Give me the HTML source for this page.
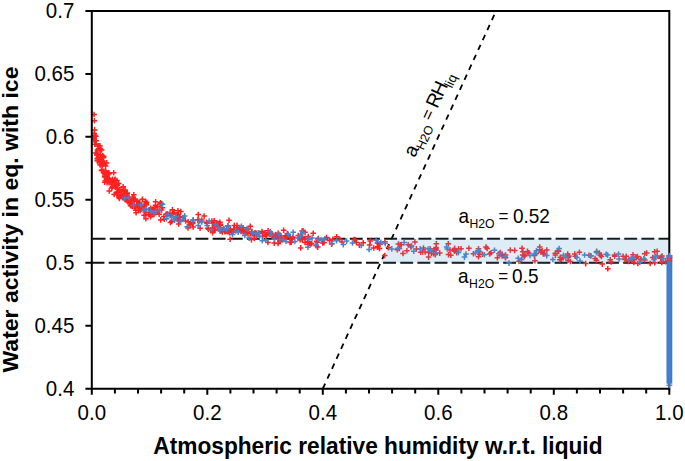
<!DOCTYPE html>
<html><head><meta charset="utf-8"><style>
html,body{margin:0;padding:0;background:#fff;}
svg{display:block;}
text{font-family:"Liberation Sans",sans-serif;fill:#000;}
</style></head><body>
<svg width="685" height="461" viewBox="0 0 685 461">
<rect width="685" height="461" fill="#fff"/>
<path d="M322.8 388.7L496.1 10.9" stroke="#000" stroke-width="1.8" stroke-dasharray="5.7 5.26" fill="none"/>
<path d="M91.8 238.8H669.3" stroke="#111" stroke-width="2" stroke-dasharray="12.9 4.25" stroke-dashoffset="-0.8" fill="none"/>
<path d="M91.8 262.8H669.3" stroke="#111" stroke-width="2" stroke-dasharray="12.9 4.25" stroke-dashoffset="0.25" fill="none"/>
<path d="M95.0 146.1h5.6M97.8 143.3v5.6M98.8 150.0h5.6M101.6 147.2v5.6M94.3 154.2h5.6M97.1 151.4v5.6M92.0 135.5h5.6M94.8 132.7v5.6M96.2 145.7h5.6M99.0 142.9v5.6M99.9 164.5h5.6M102.7 161.7v5.6M91.4 133.4h5.6M94.2 130.6v5.6M92.0 144.2h5.6M94.8 141.4v5.6M100.8 163.7h5.6M103.6 160.9v5.6M99.8 155.7h5.6M102.6 152.9v5.6M94.5 158.4h5.6M97.3 155.6v5.6M94.0 155.1h5.6M96.8 152.3v5.6M100.0 161.4h5.6M102.8 158.6v5.6M97.1 145.9h5.6M99.9 143.1v5.6M93.4 140.7h5.6M96.2 137.9v5.6M98.1 157.4h5.6M100.9 154.6v5.6M100.7 157.8h5.6M103.5 155.0v5.6M95.5 157.4h5.6M98.3 154.6v5.6M100.3 162.7h5.6M103.1 159.9v5.6M97.3 154.5h5.6M100.1 151.7v5.6M97.2 164.2h5.6M100.0 161.4v5.6M94.7 149.9h5.6M97.5 147.1v5.6M94.4 160.7h5.6M97.2 157.9v5.6M94.7 160.3h5.6M97.5 157.5v5.6M93.4 153.1h5.6M96.2 150.3v5.6M100.8 156.5h5.6M103.6 153.7v5.6M97.2 149.4h5.6M100.0 146.6v5.6M96.7 161.1h5.6M99.5 158.3v5.6M97.5 165.0h5.6M100.3 162.2v5.6M91.4 136.9h5.6M94.2 134.1v5.6M97.6 149.1h5.6M100.4 146.3v5.6M96.5 159.3h5.6M99.3 156.5v5.6M91.8 129.9h5.6M94.6 127.1v5.6M96.1 160.3h5.6M98.9 157.5v5.6M92.7 152.9h5.6M95.5 150.1v5.6M91.0 139.6h5.6M93.8 136.8v5.6M98.8 170.6h5.6M101.6 167.8v5.6M93.1 136.3h5.6M95.9 133.5v5.6M100.0 161.1h5.6M102.8 158.3v5.6M95.7 148.7h5.6M98.5 145.9v5.6M99.6 164.6h5.6M102.4 161.8v5.6M110.5 182.3h5.6M113.3 179.5v5.6M119.8 197.7h5.6M122.6 194.9v5.6M120.3 187.4h5.6M123.1 184.6v5.6M142.5 201.4h5.6M145.3 198.6v5.6M134.5 204.4h5.6M137.3 201.6v5.6M116.9 190.3h5.6M119.7 187.5v5.6M103.9 162.9h5.6M106.7 160.1v5.6M105.1 179.0h5.6M107.9 176.2v5.6M147.9 216.8h5.6M150.7 214.0v5.6M122.1 199.4h5.6M124.9 196.6v5.6M132.3 208.1h5.6M135.1 205.3v5.6M106.4 179.3h5.6M109.2 176.5v5.6M101.9 176.1h5.6M104.7 173.3v5.6M141.0 208.9h5.6M143.8 206.1v5.6M127.7 205.7h5.6M130.5 202.9v5.6M115.9 190.7h5.6M118.7 187.9v5.6M114.3 188.2h5.6M117.1 185.4v5.6M103.9 176.0h5.6M106.7 173.2v5.6M108.3 181.4h5.6M111.1 178.6v5.6M101.6 173.3h5.6M104.4 170.5v5.6M141.9 206.4h5.6M144.7 203.6v5.6M122.7 197.8h5.6M125.5 195.0v5.6M102.2 174.2h5.6M105.0 171.4v5.6M133.3 212.8h5.6M136.1 210.0v5.6M114.5 185.0h5.6M117.3 182.2v5.6M105.9 172.8h5.6M108.7 170.0v5.6M125.4 201.0h5.6M128.2 198.2v5.6M143.1 218.7h5.6M145.9 215.9v5.6M99.2 170.0h5.6M102.0 167.2v5.6M136.0 202.7h5.6M138.8 199.9v5.6M112.3 179.4h5.6M115.1 176.6v5.6M102.6 180.6h5.6M105.4 177.8v5.6M99.2 165.9h5.6M102.0 163.1v5.6M111.7 185.4h5.6M114.5 182.6v5.6M134.3 201.4h5.6M137.1 198.6v5.6M121.5 198.4h5.6M124.3 195.6v5.6M137.8 207.1h5.6M140.6 204.3v5.6M109.8 186.7h5.6M112.6 183.9v5.6M112.6 187.2h5.6M115.4 184.4v5.6M111.8 180.1h5.6M114.6 177.3v5.6M147.3 214.7h5.6M150.1 211.9v5.6M143.8 202.2h5.6M146.6 199.4v5.6M116.3 195.1h5.6M119.1 192.3v5.6M120.1 197.6h5.6M122.9 194.8v5.6M115.9 183.4h5.6M118.7 180.6v5.6M135.4 205.0h5.6M138.2 202.2v5.6M104.1 172.7h5.6M106.9 169.9v5.6M102.9 171.2h5.6M105.7 168.4v5.6M124.1 193.2h5.6M126.9 190.4v5.6M111.5 185.0h5.6M114.3 182.2v5.6M139.6 199.3h5.6M142.4 196.5v5.6M135.6 210.1h5.6M138.4 207.3v5.6M125.2 202.0h5.6M128.0 199.2v5.6M131.0 201.0h5.6M133.8 198.2v5.6M131.9 206.8h5.6M134.7 204.0v5.6M138.0 209.4h5.6M140.8 206.6v5.6M142.7 212.3h5.6M145.5 209.5v5.6M106.3 173.6h5.6M109.1 170.8v5.6M131.0 194.7h5.6M133.8 191.9v5.6M104.3 182.7h5.6M107.1 179.9v5.6M122.4 193.0h5.6M125.2 190.2v5.6M137.0 202.9h5.6M139.8 200.1v5.6M143.5 203.6h5.6M146.3 200.8v5.6M137.3 210.6h5.6M140.1 207.8v5.6M101.0 171.2h5.6M103.8 168.4v5.6M120.9 193.6h5.6M123.7 190.8v5.6M104.5 178.7h5.6M107.3 175.9v5.6M146.5 209.8h5.6M149.3 207.0v5.6M106.2 182.8h5.6M109.0 180.0v5.6M113.6 193.0h5.6M116.4 190.2v5.6M116.3 196.1h5.6M119.1 193.3v5.6M101.9 177.0h5.6M104.7 174.2v5.6M141.2 205.2h5.6M144.0 202.4v5.6M128.9 204.3h5.6M131.7 201.5v5.6M109.9 184.8h5.6M112.7 182.0v5.6M124.0 196.1h5.6M126.8 193.3v5.6M103.7 177.4h5.6M106.5 174.6v5.6M126.6 199.6h5.6M129.4 196.8v5.6M109.7 179.3h5.6M112.5 176.5v5.6M105.0 174.7h5.6M107.8 171.9v5.6M106.0 178.5h5.6M108.8 175.7v5.6M124.4 201.0h5.6M127.2 198.2v5.6M131.4 200.7h5.6M134.2 197.9v5.6M118.3 194.4h5.6M121.1 191.6v5.6M129.4 206.5h5.6M132.2 203.7v5.6M116.8 189.7h5.6M119.6 186.9v5.6M105.1 177.9h5.6M107.9 175.1v5.6M111.3 194.5h5.6M114.1 191.7v5.6M116.6 198.5h5.6M119.4 195.7v5.6M143.1 215.1h5.6M145.9 212.3v5.6M101.9 182.3h5.6M104.7 179.5v5.6M102.8 166.1h5.6M105.6 163.3v5.6M127.9 204.1h5.6M130.7 201.3v5.6M143.7 204.7h5.6M146.5 201.9v5.6M141.3 215.2h5.6M144.1 212.4v5.6M132.5 199.0h5.6M135.3 196.2v5.6M103.6 178.4h5.6M106.4 175.6v5.6M136.2 202.4h5.6M139.0 199.6v5.6M130.5 204.8h5.6M133.3 202.0v5.6M110.9 172.8h5.6M113.7 170.0v5.6M121.8 191.5h5.6M124.6 188.7v5.6M98.6 170.5h5.6M101.4 167.7v5.6M136.1 206.3h5.6M138.9 203.5v5.6M132.9 210.2h5.6M135.7 207.4v5.6M138.4 209.0h5.6M141.2 206.2v5.6M136.0 203.1h5.6M138.8 200.3v5.6M114.3 191.9h5.6M117.1 189.1v5.6M138.4 207.7h5.6M141.2 204.9v5.6M106.5 190.9h5.6M109.3 188.1v5.6M111.3 183.5h5.6M114.1 180.7v5.6M118.2 191.2h5.6M121.0 188.4v5.6M124.6 192.9h5.6M127.4 190.1v5.6M112.7 186.8h5.6M115.5 184.0v5.6M128.8 200.0h5.6M131.6 197.2v5.6M127.1 202.9h5.6M129.9 200.1v5.6M113.6 186.0h5.6M116.4 183.2v5.6M129.9 198.1h5.6M132.7 195.3v5.6M122.3 190.0h5.6M125.1 187.2v5.6M135.7 204.0h5.6M138.5 201.2v5.6M114.1 180.6h5.6M116.9 177.8v5.6M138.7 206.3h5.6M141.5 203.5v5.6M120.4 186.8h5.6M123.2 184.0v5.6M126.2 196.9h5.6M129.0 194.1v5.6M132.9 208.0h5.6M135.7 205.2v5.6M122.5 198.4h5.6M125.3 195.6v5.6M109.0 188.0h5.6M111.8 185.2v5.6M145.8 214.2h5.6M148.6 211.4v5.6M107.2 181.6h5.6M110.0 178.8v5.6M116.1 196.9h5.6M118.9 194.1v5.6M243.6 229.8h5.6M246.4 227.0v5.6M152.0 207.6h5.6M154.8 204.8v5.6M173.5 217.1h5.6M176.3 214.3v5.6M284.5 233.9h5.6M287.3 231.1v5.6M282.4 235.7h5.6M285.2 232.9v5.6M256.8 233.3h5.6M259.6 230.5v5.6M302.2 232.2h5.6M305.0 229.4v5.6M278.0 236.1h5.6M280.8 233.3v5.6M199.0 220.1h5.6M201.8 217.3v5.6M259.6 232.9h5.6M262.4 230.1v5.6M205.7 229.3h5.6M208.5 226.5v5.6M276.9 240.9h5.6M279.7 238.1v5.6M212.3 230.1h5.6M215.1 227.3v5.6M174.9 217.6h5.6M177.7 214.8v5.6M299.0 236.9h5.6M301.8 234.1v5.6M265.3 230.8h5.6M268.1 228.0v5.6M275.3 243.5h5.6M278.1 240.7v5.6M245.1 232.8h5.6M247.9 230.0v5.6M280.9 230.3h5.6M283.7 227.5v5.6M226.2 220.3h5.6M229.0 217.5v5.6M245.2 229.3h5.6M248.0 226.5v5.6M157.7 202.8h5.6M160.5 200.0v5.6M243.1 233.3h5.6M245.9 230.5v5.6M288.4 242.3h5.6M291.2 239.5v5.6M269.4 236.1h5.6M272.2 233.3v5.6M284.7 236.5h5.6M287.5 233.7v5.6M231.5 225.6h5.6M234.3 222.8v5.6M297.6 235.9h5.6M300.4 233.1v5.6M164.6 213.7h5.6M167.4 210.9v5.6M297.7 238.6h5.6M300.5 235.8v5.6M209.8 232.8h5.6M212.6 230.0v5.6M163.2 214.2h5.6M166.0 211.4v5.6M251.6 238.4h5.6M254.4 235.6v5.6M225.3 231.5h5.6M228.1 228.7v5.6M220.0 229.8h5.6M222.8 227.0v5.6M295.5 235.6h5.6M298.3 232.8v5.6M169.6 213.4h5.6M172.4 210.6v5.6M253.4 233.3h5.6M256.2 230.5v5.6M219.5 231.9h5.6M222.3 229.1v5.6M237.7 230.6h5.6M240.5 227.8v5.6M234.2 225.4h5.6M237.0 222.6v5.6M171.4 212.8h5.6M174.2 210.0v5.6M234.0 228.1h5.6M236.8 225.3v5.6M297.3 239.8h5.6M300.1 237.0v5.6M176.5 221.4h5.6M179.3 218.6v5.6M150.4 209.0h5.6M153.2 206.2v5.6M159.5 207.8h5.6M162.3 205.0v5.6M227.5 229.4h5.6M230.3 226.6v5.6M315.4 238.5h5.6M318.2 235.7v5.6M155.0 206.5h5.6M157.8 203.7v5.6M319.9 242.9h5.6M322.7 240.1v5.6M240.3 232.0h5.6M243.1 229.2v5.6M167.6 222.4h5.6M170.4 219.6v5.6M218.2 230.5h5.6M221.0 227.7v5.6M185.2 227.9h5.6M188.0 225.1v5.6M270.8 236.4h5.6M273.6 233.6v5.6M240.4 227.7h5.6M243.2 224.9v5.6M195.1 220.1h5.6M197.9 217.3v5.6M190.5 220.4h5.6M193.3 217.6v5.6M297.2 237.0h5.6M300.0 234.2v5.6M277.4 241.7h5.6M280.2 238.9v5.6M223.2 231.3h5.6M226.0 228.5v5.6M217.5 225.5h5.6M220.3 222.7v5.6M271.4 243.1h5.6M274.2 240.3v5.6M314.6 242.2h5.6M317.4 239.4v5.6M161.0 216.6h5.6M163.8 213.8v5.6M172.9 218.4h5.6M175.7 215.6v5.6M209.7 228.2h5.6M212.5 225.4v5.6M234.6 230.1h5.6M237.4 227.3v5.6M158.8 203.9h5.6M161.6 201.1v5.6M154.9 212.3h5.6M157.7 209.5v5.6M185.4 221.7h5.6M188.2 218.9v5.6M213.4 224.4h5.6M216.2 221.6v5.6M274.9 235.3h5.6M277.7 232.5v5.6M248.6 239.6h5.6M251.4 236.8v5.6M152.8 201.8h5.6M155.6 199.0v5.6M152.5 212.6h5.6M155.3 209.8v5.6M226.6 232.8h5.6M229.4 230.0v5.6M297.9 247.9h5.6M300.7 245.1v5.6M305.4 236.5h5.6M308.2 233.7v5.6M209.9 223.0h5.6M212.7 220.2v5.6M299.3 231.1h5.6M302.1 228.3v5.6M308.0 244.0h5.6M310.8 241.2v5.6M217.1 222.3h5.6M219.9 219.5v5.6M275.4 233.3h5.6M278.2 230.5v5.6M211.7 229.4h5.6M214.5 226.6v5.6M175.1 210.7h5.6M177.9 207.9v5.6M245.1 233.8h5.6M247.9 231.0v5.6M161.5 219.3h5.6M164.3 216.5v5.6M262.3 232.8h5.6M265.1 230.0v5.6M287.2 242.5h5.6M290.0 239.7v5.6M305.4 239.3h5.6M308.2 236.5v5.6M224.1 228.5h5.6M226.9 225.7v5.6M167.2 213.2h5.6M170.0 210.4v5.6M302.3 238.4h5.6M305.1 235.6v5.6M297.4 237.4h5.6M300.2 234.6v5.6M314.9 247.1h5.6M317.7 244.3v5.6M250.7 233.9h5.6M253.5 231.1v5.6M263.3 235.5h5.6M266.1 232.7v5.6M211.4 225.1h5.6M214.2 222.3v5.6M176.4 220.6h5.6M179.2 217.8v5.6M195.5 214.6h5.6M198.3 211.8v5.6M272.4 237.3h5.6M275.2 234.5v5.6M203.7 222.2h5.6M206.5 219.4v5.6M268.0 232.9h5.6M270.8 230.1v5.6M237.1 229.2h5.6M239.9 226.4v5.6M224.8 231.8h5.6M227.6 229.0v5.6M313.8 241.3h5.6M316.6 238.5v5.6M177.2 216.7h5.6M180.0 213.9v5.6M230.3 232.0h5.6M233.1 229.2v5.6M175.0 214.6h5.6M177.8 211.8v5.6M310.4 233.3h5.6M313.2 230.5v5.6M231.0 229.0h5.6M233.8 226.2v5.6M204.1 223.2h5.6M206.9 220.4v5.6M175.9 223.9h5.6M178.7 221.1v5.6M249.4 233.6h5.6M252.2 230.8v5.6M217.8 228.1h5.6M220.6 225.3v5.6M169.9 213.2h5.6M172.7 210.4v5.6M151.2 214.4h5.6M154.0 211.6v5.6M214.8 227.4h5.6M217.6 224.6v5.6M247.6 233.8h5.6M250.4 231.0v5.6M237.0 227.5h5.6M239.8 224.7v5.6M302.2 242.4h5.6M305.0 239.6v5.6M304.9 241.5h5.6M307.7 238.7v5.6M308.8 243.5h5.6M311.6 240.7v5.6M285.3 235.4h5.6M288.1 232.6v5.6M228.8 232.4h5.6M231.6 229.6v5.6M238.1 230.4h5.6M240.9 227.6v5.6M215.4 223.9h5.6M218.2 221.1v5.6M217.6 231.1h5.6M220.4 228.3v5.6M154.4 211.0h5.6M157.2 208.2v5.6M283.9 236.6h5.6M286.7 233.8v5.6M189.7 222.4h5.6M192.5 219.6v5.6M151.9 207.2h5.6M154.7 204.4v5.6M227.3 239.3h5.6M230.1 236.5v5.6M272.6 234.9h5.6M275.4 232.1v5.6M225.2 225.7h5.6M228.0 222.9v5.6M211.4 220.8h5.6M214.2 218.0v5.6M259.2 231.5h5.6M262.0 228.7v5.6M175.7 214.2h5.6M178.5 211.4v5.6M149.4 213.0h5.6M152.2 210.2v5.6M248.9 231.6h5.6M251.7 228.8v5.6M238.3 231.4h5.6M241.1 228.6v5.6M296.3 237.9h5.6M299.1 235.1v5.6M216.6 225.5h5.6M219.4 222.7v5.6M281.0 238.4h5.6M283.8 235.6v5.6M150.5 213.1h5.6M153.3 210.3v5.6M151.3 211.5h5.6M154.1 208.7v5.6M252.3 232.9h5.6M255.1 230.1v5.6M187.0 225.1h5.6M189.8 222.3v5.6M157.9 219.9h5.6M160.7 217.1v5.6M167.9 215.5h5.6M170.7 212.7v5.6M212.5 225.2h5.6M215.3 222.4v5.6M205.1 228.2h5.6M207.9 225.4v5.6M242.2 233.3h5.6M245.0 230.5v5.6M299.6 239.6h5.6M302.4 236.8v5.6M209.1 221.1h5.6M211.9 218.3v5.6M178.0 211.5h5.6M180.8 208.7v5.6M247.5 226.2h5.6M250.3 223.4v5.6M148.1 208.3h5.6M150.9 205.5v5.6M215.0 223.3h5.6M217.8 220.5v5.6M201.3 216.1h5.6M204.1 213.3v5.6M210.8 230.4h5.6M213.6 227.6v5.6M156.4 214.3h5.6M159.2 211.5v5.6M242.9 230.5h5.6M245.7 227.7v5.6M254.1 234.9h5.6M256.9 232.1v5.6M277.0 237.8h5.6M279.8 235.0v5.6M313.5 245.8h5.6M316.3 243.0v5.6M208.0 229.8h5.6M210.8 227.0v5.6M260.0 236.6h5.6M262.8 233.8v5.6M222.0 231.7h5.6M224.8 228.9v5.6M182.8 221.0h5.6M185.6 218.2v5.6M300.3 230.9h5.6M303.1 228.1v5.6M275.3 238.9h5.6M278.1 236.1v5.6M307.2 243.3h5.6M310.0 240.5v5.6M289.4 238.8h5.6M292.2 236.0v5.6M305.7 244.4h5.6M308.5 241.6v5.6M168.9 221.5h5.6M171.7 218.7v5.6M150.0 209.5h5.6M152.8 206.7v5.6M180.3 217.6h5.6M183.1 214.8v5.6M217.6 224.3h5.6M220.4 221.5v5.6M266.7 234.2h5.6M269.5 231.4v5.6M221.2 229.1h5.6M224.0 226.3v5.6M234.4 228.5h5.6M237.2 225.7v5.6M277.3 240.0h5.6M280.1 237.2v5.6M158.8 210.0h5.6M161.6 207.2v5.6M265.1 242.5h5.6M267.9 239.7v5.6M157.3 203.7h5.6M160.1 200.9v5.6M189.9 223.6h5.6M192.7 220.8v5.6M272.9 234.5h5.6M275.7 231.7v5.6M263.8 235.1h5.6M266.6 232.3v5.6M217.7 224.5h5.6M220.5 221.7v5.6M197.3 228.3h5.6M200.1 225.5v5.6M290.2 237.2h5.6M293.0 234.4v5.6M195.3 219.7h5.6M198.1 216.9v5.6M152.0 209.5h5.6M154.8 206.7v5.6M190.3 226.9h5.6M193.1 224.1v5.6M152.7 205.3h5.6M155.5 202.5v5.6M287.1 238.0h5.6M289.9 235.2v5.6M169.6 209.8h5.6M172.4 207.0v5.6M658.3 257.1h5.6M661.1 254.3v5.6M394.5 249.7h5.6M397.3 246.9v5.6M425.9 252.4h5.6M428.7 249.6v5.6M522.2 255.1h5.6M525.0 252.3v5.6M425.8 257.1h5.6M428.6 254.3v5.6M451.3 250.0h5.6M454.1 247.2v5.6M356.6 245.1h5.6M359.4 242.3v5.6M455.8 248.9h5.6M458.6 246.1v5.6M328.8 244.1h5.6M331.6 241.3v5.6M396.6 248.5h5.6M399.4 245.7v5.6M635.0 263.5h5.6M637.8 260.7v5.6M419.8 252.0h5.6M422.6 249.2v5.6M413.6 248.9h5.6M416.4 246.1v5.6M557.5 257.3h5.6M560.3 254.5v5.6M625.7 261.4h5.6M628.5 258.6v5.6M422.3 251.9h5.6M425.1 249.1v5.6M451.6 251.2h5.6M454.4 248.4v5.6M567.6 261.5h5.6M570.4 258.7v5.6M593.9 251.4h5.6M596.7 248.6v5.6M531.6 255.6h5.6M534.4 252.8v5.6M381.9 255.5h5.6M384.7 252.7v5.6M382.1 241.7h5.6M384.9 238.9v5.6M582.9 263.6h5.6M585.7 260.8v5.6M566.1 255.9h5.6M568.9 253.1v5.6M630.2 254.7h5.6M633.0 251.9v5.6M588.1 255.7h5.6M590.9 252.9v5.6M466.1 248.2h5.6M468.9 245.4v5.6M367.4 241.1h5.6M370.2 238.3v5.6M628.4 259.1h5.6M631.2 256.3v5.6M558.6 259.2h5.6M561.4 256.4v5.6M519.9 255.0h5.6M522.7 252.2v5.6M557.1 259.8h5.6M559.9 257.0v5.6M454.0 251.0h5.6M456.8 248.2v5.6M436.9 253.1h5.6M439.7 250.3v5.6M520.1 251.7h5.6M522.9 248.9v5.6M486.8 253.9h5.6M489.6 251.1v5.6M565.5 257.2h5.6M568.3 254.4v5.6M642.0 260.0h5.6M644.8 257.2v5.6M611.8 255.0h5.6M614.6 252.2v5.6M453.9 252.6h5.6M456.7 249.8v5.6M447.2 250.1h5.6M450.0 247.3v5.6M641.9 253.7h5.6M644.7 250.9v5.6M458.2 248.8h5.6M461.0 246.0v5.6M593.6 260.3h5.6M596.4 257.5v5.6M353.6 242.4h5.6M356.4 239.6v5.6M475.7 248.8h5.6M478.5 246.0v5.6M499.2 254.2h5.6M502.0 251.4v5.6M599.5 264.1h5.6M602.3 261.3v5.6M625.9 260.3h5.6M628.7 257.5v5.6M374.7 247.3h5.6M377.5 244.5v5.6M531.9 254.9h5.6M534.7 252.1v5.6M536.9 247.0h5.6M539.7 244.2v5.6M374.5 243.1h5.6M377.3 240.3v5.6M607.4 259.7h5.6M610.2 256.9v5.6M511.9 250.4h5.6M514.7 247.6v5.6M652.0 262.7h5.6M654.8 259.9v5.6M385.7 247.6h5.6M388.5 244.8v5.6M502.7 255.0h5.6M505.5 252.2v5.6M433.5 243.7h5.6M436.3 240.9v5.6M544.0 250.0h5.6M546.8 247.2v5.6M532.1 260.7h5.6M534.9 257.9v5.6M497.4 252.6h5.6M500.2 249.8v5.6M430.7 253.7h5.6M433.5 250.9v5.6M494.6 257.7h5.6M497.4 254.9v5.6M448.0 255.2h5.6M450.8 252.4v5.6M629.4 260.2h5.6M632.2 257.4v5.6M479.7 254.2h5.6M482.5 251.4v5.6M484.3 248.5h5.6M487.1 245.7v5.6M408.4 246.0h5.6M411.2 243.2v5.6M408.1 246.9h5.6M410.9 244.1v5.6M650.0 257.5h5.6M652.8 254.7v5.6M428.5 253.2h5.6M431.3 250.4v5.6M622.1 259.6h5.6M624.9 256.8v5.6M524.7 251.4h5.6M527.5 248.6v5.6M659.2 256.0h5.6M662.0 253.2v5.6M376.3 244.0h5.6M379.1 241.2v5.6M647.4 263.5h5.6M650.2 260.7v5.6M586.2 255.3h5.6M589.0 252.5v5.6M516.2 261.3h5.6M519.0 258.5v5.6M565.2 260.5h5.6M568.0 257.7v5.6M572.0 254.1h5.6M574.8 251.3v5.6M477.0 254.2h5.6M479.8 251.4v5.6M539.3 250.9h5.6M542.1 248.1v5.6M400.2 253.4h5.6M403.0 250.6v5.6M330.1 239.3h5.6M332.9 236.5v5.6M555.3 250.5h5.6M558.1 247.7v5.6M483.2 247.1h5.6M486.0 244.3v5.6M633.5 257.3h5.6M636.3 254.5v5.6M412.1 241.9h5.6M414.9 239.1v5.6M605.0 268.7h5.6M607.8 265.9v5.6M662.7 261.6h5.6M665.5 258.8v5.6M631.5 259.7h5.6M634.3 256.9v5.6M654.4 255.9h5.6M657.2 253.1v5.6M376.7 248.4h5.6M379.5 245.6v5.6M377.2 244.2h5.6M380.0 241.4v5.6M398.5 244.7h5.6M401.3 241.9v5.6M445.5 243.7h5.6M448.3 240.9v5.6M360.4 242.8h5.6M363.2 240.0v5.6M370.9 248.0h5.6M373.7 245.2v5.6M326.8 240.4h5.6M329.6 237.6v5.6M643.9 253.1h5.6M646.7 250.3v5.6M445.7 254.6h5.6M448.5 251.8v5.6M538.1 252.0h5.6M540.9 249.2v5.6M476.1 251.8h5.6M478.9 249.0v5.6M576.6 252.3h5.6M579.4 249.5v5.6M597.5 255.3h5.6M600.3 252.5v5.6M451.8 248.4h5.6M454.6 245.6v5.6M507.5 250.0h5.6M510.3 247.2v5.6M352.5 239.7h5.6M355.3 236.9v5.6M417.9 252.2h5.6M420.7 249.4v5.6M397.6 244.7h5.6M400.4 241.9v5.6M427.3 248.7h5.6M430.1 245.9v5.6M433.2 247.5h5.6M436.0 244.7v5.6M519.2 248.3h5.6M522.0 245.5v5.6M433.2 249.1h5.6M436.0 246.3v5.6M432.5 254.6h5.6M435.3 251.8v5.6M608.3 262.0h5.6M611.1 259.2v5.6M323.7 237.6h5.6M326.5 234.8v5.6M321.2 242.4h5.6M324.0 239.6v5.6M339.2 241.9h5.6M342.0 239.1v5.6M620.3 256.3h5.6M623.1 253.5v5.6M540.5 253.9h5.6M543.3 251.1v5.6M572.4 256.3h5.6M575.2 253.5v5.6M651.8 251.8h5.6M654.6 249.0v5.6M395.6 244.1h5.6M398.4 241.3v5.6M638.3 259.7h5.6M641.1 256.9v5.6M404.1 250.8h5.6M406.9 248.0v5.6M499.3 256.0h5.6M502.1 253.2v5.6M555.8 251.3h5.6M558.6 248.5v5.6M596.6 253.1h5.6M599.4 250.3v5.6M405.3 244.8h5.6M408.1 242.0v5.6M488.3 252.8h5.6M491.1 250.0v5.6M337.0 239.3h5.6M339.8 236.5v5.6M420.7 248.0h5.6M423.5 245.2v5.6M658.9 262.5h5.6M661.7 259.7v5.6M634.6 256.5h5.6M637.4 253.7v5.6M521.5 256.1h5.6M524.3 253.3v5.6M592.3 258.5h5.6M595.1 255.7v5.6M631.0 262.4h5.6M633.8 259.6v5.6M433.0 250.2h5.6M435.8 247.4v5.6M659.0 261.9h5.6M661.8 259.1v5.6M475.7 256.8h5.6M478.5 254.0v5.6M374.9 246.8h5.6M377.7 244.0v5.6M502.8 257.7h5.6M505.6 254.9v5.6M526.1 252.9h5.6M528.9 250.1v5.6M560.5 257.7h5.6M563.3 254.9v5.6M552.6 255.1h5.6M555.4 252.3v5.6M333.9 236.8h5.6M336.7 234.0v5.6M541.9 253.8h5.6M544.7 251.0v5.6M638.0 259.0h5.6M640.8 256.2v5.6M552.5 253.2h5.6M555.3 250.4v5.6M657.9 258.2h5.6M660.7 255.4v5.6M496.2 253.8h5.6M499.0 251.0v5.6M598.6 256.5h5.6M601.4 253.7v5.6M366.8 245.0h5.6M369.6 242.2v5.6M631.1 259.4h5.6M633.9 256.6v5.6M470.6 253.7h5.6M473.4 250.9v5.6M623.4 256.2h5.6M626.2 253.4v5.6M430.7 251.3h5.6M433.5 248.5v5.6M537.0 249.7h5.6M539.8 246.9v5.6M611.9 256.2h5.6M614.7 253.4v5.6M564.9 254.1h5.6M567.7 251.3v5.6M533.5 253.5h5.6M536.3 250.7v5.6M654.3 251.3h5.6M657.1 248.5v5.6M351.3 239.5h5.6M354.1 236.7v5.6M91.3 114.5h5.6M94.1 111.7v5.6M91.6 120.7h5.6M94.4 117.9v5.6" stroke="#ff2020" stroke-width="1.5" fill="none"/>
<path d="M121.8 198.1h5.6M124.6 195.3v5.6M126.3 197.5h5.6M129.1 194.7v5.6M130.9 205.3h5.6M133.7 202.5v5.6M138.0 205.0h5.6M140.8 202.2v5.6M140.7 210.3h5.6M143.5 207.5v5.6M143.3 209.1h5.6M146.1 206.3v5.6M147.8 211.0h5.6M150.6 208.2v5.6M150.9 212.7h5.6M153.7 209.9v5.6M152.8 211.7h5.6M155.6 208.9v5.6M156.8 209.8h5.6M159.6 207.0v5.6M159.8 204.2h5.6M162.6 201.4v5.6M163.8 218.8h5.6M166.6 216.0v5.6M165.3 214.6h5.6M168.1 211.8v5.6M169.0 217.0h5.6M171.8 214.2v5.6M171.8 220.1h5.6M174.6 217.3v5.6M173.2 216.7h5.6M176.0 213.9v5.6M177.3 221.4h5.6M180.1 218.6v5.6M179.8 219.5h5.6M182.6 216.7v5.6M181.9 215.9h5.6M184.7 213.1v5.6M184.4 226.7h5.6M187.2 223.9v5.6M190.1 220.6h5.6M192.9 217.8v5.6M190.3 220.0h5.6M193.1 217.2v5.6M195.5 225.4h5.6M198.3 222.6v5.6M196.9 221.0h5.6M199.7 218.2v5.6M199.0 222.0h5.6M201.8 219.2v5.6M204.4 225.5h5.6M207.2 222.7v5.6M206.4 221.0h5.6M209.2 218.2v5.6M208.6 229.5h5.6M211.4 226.7v5.6M212.7 224.3h5.6M215.5 221.5v5.6M215.2 227.6h5.6M218.0 224.8v5.6M217.2 230.6h5.6M220.0 227.8v5.6M221.0 228.6h5.6M223.8 225.8v5.6M224.0 229.7h5.6M226.8 226.9v5.6M225.2 226.3h5.6M228.0 223.5v5.6M229.7 234.4h5.6M232.5 231.6v5.6M233.1 230.9h5.6M235.9 228.1v5.6M235.4 232.1h5.6M238.2 229.3v5.6M238.6 226.3h5.6M241.4 223.5v5.6M242.0 235.4h5.6M244.8 232.6v5.6M244.3 228.9h5.6M247.1 226.1v5.6M246.3 238.1h5.6M249.1 235.3v5.6M249.4 232.1h5.6M252.2 229.3v5.6M252.9 234.1h5.6M255.7 231.3v5.6M255.4 232.9h5.6M258.2 230.1v5.6M256.7 236.5h5.6M259.5 233.7v5.6M259.5 240.8h5.6M262.3 238.0v5.6M263.0 240.0h5.6M265.8 237.2v5.6M267.5 231.7h5.6M270.3 228.9v5.6M268.7 235.3h5.6M271.5 232.5v5.6M271.8 239.2h5.6M274.6 236.4v5.6M276.2 234.2h5.6M279.0 231.4v5.6M277.1 239.5h5.6M279.9 236.7v5.6M280.4 239.8h5.6M283.2 237.0v5.6M283.2 241.5h5.6M286.0 238.7v5.6M285.5 234.2h5.6M288.3 231.4v5.6M290.4 232.2h5.6M293.2 229.4v5.6M292.1 241.5h5.6M294.9 238.7v5.6M295.2 237.9h5.6M298.0 235.1v5.6M297.9 235.9h5.6M300.7 233.1v5.6M300.0 232.5h5.6M302.8 229.7v5.6M305.1 247.2h5.6M307.9 244.4v5.6M306.0 239.3h5.6M308.8 236.5v5.6M309.3 238.0h5.6M312.1 235.2v5.6M313.4 245.0h5.6M316.2 242.2v5.6M315.2 239.2h5.6M318.0 236.4v5.6M318.6 240.2h5.6M321.4 237.4v5.6M322.0 238.8h5.6M324.8 236.0v5.6M329.2 243.6h5.6M332.0 240.8v5.6M333.7 240.8h5.6M336.5 238.0v5.6M340.5 244.6h5.6M343.3 241.8v5.6M343.8 241.1h5.6M346.6 238.3v5.6M349.7 243.0h5.6M352.5 240.2v5.6M358.5 245.4h5.6M361.3 242.6v5.6M366.3 249.4h5.6M369.1 246.6v5.6M373.3 240.3h5.6M376.1 237.5v5.6M378.1 242.4h5.6M380.9 239.6v5.6M382.4 243.5h5.6M385.2 240.7v5.6M389.0 248.9h5.6M391.8 246.1v5.6M395.1 248.4h5.6M397.9 245.6v5.6M401.3 242.6h5.6M404.1 239.8v5.6M408.8 246.1h5.6M411.6 243.3v5.6M410.9 251.3h5.6M413.7 248.5v5.6M417.4 248.9h5.6M420.2 246.1v5.6M425.3 249.1h5.6M428.1 246.3v5.6M427.9 250.3h5.6M430.7 247.5v5.6M433.1 253.0h5.6M435.9 250.2v5.6M443.8 246.9h5.6M446.6 244.1v5.6M444.5 249.0h5.6M447.3 246.2v5.6M455.6 252.4h5.6M458.4 249.6v5.6M461.7 257.1h5.6M464.5 254.3v5.6M463.2 254.1h5.6M466.0 251.3v5.6M472.6 253.0h5.6M475.4 250.2v5.6M475.7 250.5h5.6M478.5 247.7v5.6M481.6 254.7h5.6M484.4 251.9v5.6M491.7 250.3h5.6M494.5 247.5v5.6M497.1 253.6h5.6M499.9 250.8v5.6M502.3 256.5h5.6M505.1 253.7v5.6M506.2 263.1h5.6M509.0 260.3v5.6M515.4 258.3h5.6M518.2 255.5v5.6M518.9 259.4h5.6M521.7 256.6v5.6M527.2 255.5h5.6M530.0 252.7v5.6M531.6 254.1h5.6M534.4 251.3v5.6M533.6 250.8h5.6M536.4 248.0v5.6M543.9 255.6h5.6M546.7 252.8v5.6M550.1 259.5h5.6M552.9 256.7v5.6M556.3 248.6h5.6M559.1 245.8v5.6M560.7 255.2h5.6M563.5 252.4v5.6M563.1 257.1h5.6M565.9 254.3v5.6M574.0 257.5h5.6M576.8 254.7v5.6M577.2 261.1h5.6M580.0 258.3v5.6M581.8 255.0h5.6M584.6 252.2v5.6M587.8 256.0h5.6M590.6 253.2v5.6M593.7 252.4h5.6M596.5 249.6v5.6M603.3 254.3h5.6M606.1 251.5v5.6M604.8 255.1h5.6M607.6 252.3v5.6M615.7 254.1h5.6M618.5 251.3v5.6M616.3 258.9h5.6M619.1 256.1v5.6M626.4 259.5h5.6M629.2 256.7v5.6M629.4 258.3h5.6M632.2 255.5v5.6M637.0 262.2h5.6M639.8 259.4v5.6M641.0 258.7h5.6M643.8 255.9v5.6M651.2 259.4h5.6M654.0 256.6v5.6M652.7 256.3h5.6M655.5 253.5v5.6M660.5 258.5h5.6M663.3 255.7v5.6" stroke="#4a80cc" stroke-width="1.5" fill="none"/>
<path d="M391.6 238.6L669.3 238.6L669.3 262.8L380.6 262.8Z" fill="#4f9ad0" fill-opacity="0.19"/>
<path d="M91.8 10.9V388.7H669.3V10.9Z" stroke="#000" stroke-width="2" fill="none"/>
<rect x="666.5" y="254.9" width="5.8" height="128.8" fill="#3e7cca"/>
<rect x="666.5" y="254.9" width="5.8" height="3.2" fill="#7a6cb4"/>
<path d="M666.5 258.4h5.8M666.5 260.8h5.8" stroke="#ff2323" stroke-width="1.4"/>
<path d="M666.5 385.2h5.8" stroke="#3e7cca" stroke-width="1.4"/>
<path d="M669.3 252.8V388.3" stroke="#4382cf" stroke-width="1.7"/>
<path d="M85.4 388.7H91.8M85.4 325.7H91.8M85.4 262.8H91.8M85.4 199.8H91.8M85.4 136.8H91.8M85.4 73.9H91.8M85.4 10.9H91.8M91.8 388.7V394.8M114.9 388.7V393.5M138.0 388.7V393.5M161.1 388.7V393.5M184.2 388.7V393.5M207.3 388.7V394.8M230.4 388.7V393.5M253.5 388.7V393.5M276.6 388.7V393.5M299.7 388.7V393.5M322.8 388.7V394.8M345.9 388.7V393.5M369.0 388.7V393.5M392.1 388.7V393.5M415.2 388.7V393.5M438.3 388.7V394.8M461.4 388.7V393.5M484.5 388.7V393.5M507.6 388.7V393.5M530.7 388.7V393.5M553.8 388.7V394.8M576.9 388.7V393.5M600.0 388.7V393.5M623.1 388.7V393.5M646.2 388.7V393.5M669.3 388.7V394.8" stroke="#000" stroke-width="2" fill="none"/>
<g font-size="20.5"><text transform="translate(74.3 395.7) scale(1 1.035)" text-anchor="end">0.4</text><text transform="translate(74.3 332.7) scale(1 1.035)" text-anchor="end">0.45</text><text transform="translate(74.3 269.8) scale(1 1.035)" text-anchor="end">0.5</text><text transform="translate(74.3 206.8) scale(1 1.035)" text-anchor="end">0.55</text><text transform="translate(74.3 143.8) scale(1 1.035)" text-anchor="end">0.6</text><text transform="translate(74.3 80.9) scale(1 1.035)" text-anchor="end">0.65</text><text transform="translate(74.3 17.9) scale(1 1.035)" text-anchor="end">0.7</text><text transform="translate(91.8 420.2) scale(1 1.035)" text-anchor="middle">0.0</text><text transform="translate(207.3 420.2) scale(1 1.035)" text-anchor="middle">0.2</text><text transform="translate(322.8 420.2) scale(1 1.035)" text-anchor="middle">0.4</text><text transform="translate(438.3 420.2) scale(1 1.035)" text-anchor="middle">0.6</text><text transform="translate(553.8 420.2) scale(1 1.035)" text-anchor="middle">0.8</text><text transform="translate(669.3 420.2) scale(1 1.035)" text-anchor="middle">1.0</text></g>
<text transform="translate(153.3 453.7) scale(1 1.03)" font-size="22.7" font-weight="bold">Atmospheric relative humidity w.r.t. liquid</text>
<text transform="translate(17.7 372.5) rotate(-90) scale(1.03 1)" font-size="22.35" font-weight="bold">Water activity in eq. with ice</text>
<g font-size="19">
<g transform="translate(0 222.8) scale(1 1.03) translate(0 -222.8)">
<text x="458.5" y="222.8">a</text><text x="469.4" y="227.5" font-size="12.2">H2O</text><text x="498.6" y="222.0" font-size="17">=</text><text x="512.9" y="222.8">0.52</text></g>
<g transform="translate(0 283.2) scale(1 1.03) translate(0 -283.2)">
<text x="458.1" y="283.2">a</text><text x="469.1" y="287.9" font-size="12.2">H2O</text><text x="498.2" y="282.4" font-size="17">=</text><text x="512.1" y="283.2">0.5</text></g>
</g>
<g transform="translate(414.8 158.3) rotate(-65.36)" font-size="19.5">
<text x="0" y="0">a</text><text x="10.4" y="4.8" font-size="12.4">H2O</text><text x="40.1" y="-0.8" font-size="17">=</text><text x="54" y="0">R</text><text x="66.6" y="0">H</text><text x="78.6" y="4.8" font-size="13.2">liq</text>
</g>
</svg>
</body></html>
